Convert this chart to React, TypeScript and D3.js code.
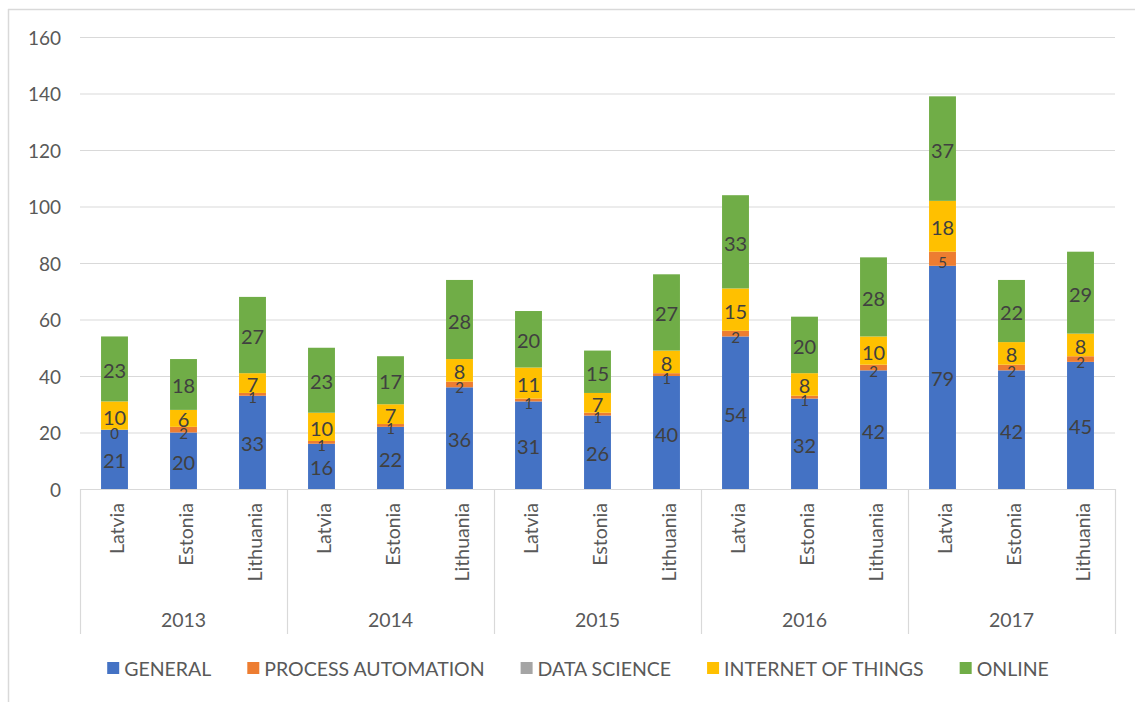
import React, { useEffect, useRef } from "react";
import * as d3 from "d3";

const years = ["2013", "2014", "2015", "2016", "2017"];
const countries = ["Latvia", "Estonia", "Lithuania"];
const seriesNames = ["GENERAL", "PROCESS AUTOMATION", "DATA SCIENCE", "INTERNET OF THINGS", "ONLINE"];
const seriesColors = ["#4472C4", "#ED7D31", "#A5A5A5", "#FFC000", "#70AD47"];
const general = [21, 20, 33, 16, 22, 36, 31, 26, 40, 54, 32, 42, 79, 42, 45];
const processAutomation = [0, 2, 1, 1, 1, 2, 1, 1, 1, 2, 1, 2, 5, 2, 2];
const dataScience = [0, 0, 0, 0, 0, 0, 0, 0, 0, 0, 0, 0, 0, 0, 0];
const internetOfThings = [10, 6, 7, 10, 7, 8, 11, 7, 8, 15, 8, 10, 18, 8, 8];
const online = [23, 18, 27, 23, 17, 28, 20, 15, 27, 33, 20, 28, 37, 22, 29];
const yTicks = [0, 20, 40, 60, 80, 100, 120, 140, 160];
const showLabels = [true, true, false, true, true];

const FONT = "Lato, 'Open Sans', sans-serif";

export default function App() {
  const ref = useRef<SVGSVGElement>(null);
  useEffect(() => {
    const svg = d3.select(ref.current);
    svg.selectAll("*").remove();
    const W = 1135, H = 702;
    const left = 80, right = 1115, top = 37, bottom = 489;
    const values = [general, processAutomation, dataScience, internetOfThings, online];
    const cats = years.flatMap((y) => countries.map((c) => `${y}|${c}`));

    const x = d3.scaleBand<string>().domain(cats).range([left, right]).paddingInner(0.61).paddingOuter(0.305);
    const y = d3.scaleLinear().domain([0, 160]).range([bottom, top]);

    // frame
    svg.append("line").attr("x1", 8).attr("x2", W).attr("y1", 9.5).attr("y2", 9.5).attr("stroke", "#d9d9d9").attr("stroke-width", 1.5);
    svg.append("line").attr("x1", 8.5).attr("x2", 8.5).attr("y1", 9).attr("y2", H).attr("stroke", "#d9d9d9").attr("stroke-width", 1.5);

    // gridlines
    svg.append("g").selectAll("line").data(yTicks.slice(1)).join("line")
      .attr("x1", left).attr("x2", right)
      .attr("y1", (d) => y(d) + 0.5).attr("y2", (d) => y(d) + 0.5)
      .attr("stroke", "#d9d9d9").attr("stroke-width", 1.2);

    // y tick labels
    svg.append("g").selectAll("text").data(yTicks).join("text")
      .attr("x", 61).attr("y", (d) => y(d))
      .attr("text-anchor", "end").attr("dominant-baseline", "central")
      .attr("font-family", FONT).attr("font-size", 19).attr("fill", "#595959")
      .text((d) => String(d));

    // stacks
    const table = cats.map((c, i) => {
      const o: any = { cat: c };
      seriesNames.forEach((s, k) => (o[s] = values[k][i]));
      return o;
    });
    const stacked = d3.stack<any>().keys(seriesNames)(table);
    const bw = x.bandwidth();
    stacked.forEach((layer, k) => {
      svg.append("g").selectAll("rect").data(layer).join("rect")
        .attr("x", (d) => x(d.data.cat)!)
        .attr("width", bw)
        .attr("y", (d) => y(d[1]))
        .attr("height", (d) => Math.max(0, y(d[0]) - y(d[1])))
        .attr("fill", seriesColors[k]);
    });
    stacked.forEach((layer, k) => {
      if (!showLabels[k]) return;
      svg.append("g").selectAll("text").data(layer).join("text")
        .attr("x", (d) => x(d.data.cat)! + bw / 2)
        .attr("y", (d) => (y(d[0]) + y(d[1])) / 2 + (k === 1 ? 3 : 1))
        .attr("text-anchor", "middle").attr("dominant-baseline", "central")
        .attr("font-family", FONT).attr("font-size", k === 1 ? 15 : 20).attr("fill", "#404040")
        .text((d) => String(d[1] - d[0]));
    });

    // axis line
    svg.append("line").attr("x1", left).attr("x2", right).attr("y1", bottom + 0.5).attr("y2", bottom + 0.5)
      .attr("stroke", "#d9d9d9").attr("stroke-width", 1.2);

    // group separators
    const groupW = (right - left) / years.length;
    svg.append("g").selectAll("line").data(d3.range(years.length + 1)).join("line")
      .attr("x1", (i) => left + i * groupW + 0.5).attr("x2", (i) => left + i * groupW + 0.5)
      .attr("y1", bottom).attr("y2", 634)
      .attr("stroke", "#d9d9d9").attr("stroke-width", 1.2);

    // category labels
    svg.append("g").selectAll("text").data(cats).join("text")
      .attr("transform", (c) => `translate(${x(c)! + bw / 2 + 2},503) rotate(-90)`)
      .attr("text-anchor", "end").attr("dominant-baseline", "central")
      .attr("font-family", FONT).attr("font-size", 19.5).attr("fill", "#595959")
      .text((c) => c.split("|")[1]);

    // year labels
    svg.append("g").selectAll("text").data(years).join("text")
      .attr("x", (_, i) => left + (i + 0.5) * groupW).attr("y", 627)
      .attr("text-anchor", "middle")
      .attr("font-family", FONT).attr("font-size", 19.5).attr("fill", "#595959")
      .text((d) => d);

    // legend
    const lg = svg.append("g");
    const items = seriesNames.map((name, k) => {
      const g = lg.append("g");
      g.append("rect").attr("x", 0).attr("y", -6).attr("width", 12).attr("height", 12).attr("fill", seriesColors[k]);
      const t = g.append("text").attr("x", 17).attr("y", 0).attr("dominant-baseline", "central")
        .attr("font-family", FONT).attr("font-size", 19.5).attr("fill", "#595959").text(name);
      const w = 17 + (t.node() as SVGTextElement).getComputedTextLength();
      return { g, w };
    });
    const gap = 36;
    const total = d3.sum(items, (d) => d.w) + gap * (items.length - 1);
    let cx = 578 - total / 2;
    items.forEach((it) => {
      it.g.attr("transform", `translate(${cx},668)`);
      cx += it.w + gap;
    });
  }, []);
  return (
    <svg ref={ref} width={1135} height={702} style={{ position: "absolute", left: 0, top: 0, background: "#fff" }} />
  );
}
